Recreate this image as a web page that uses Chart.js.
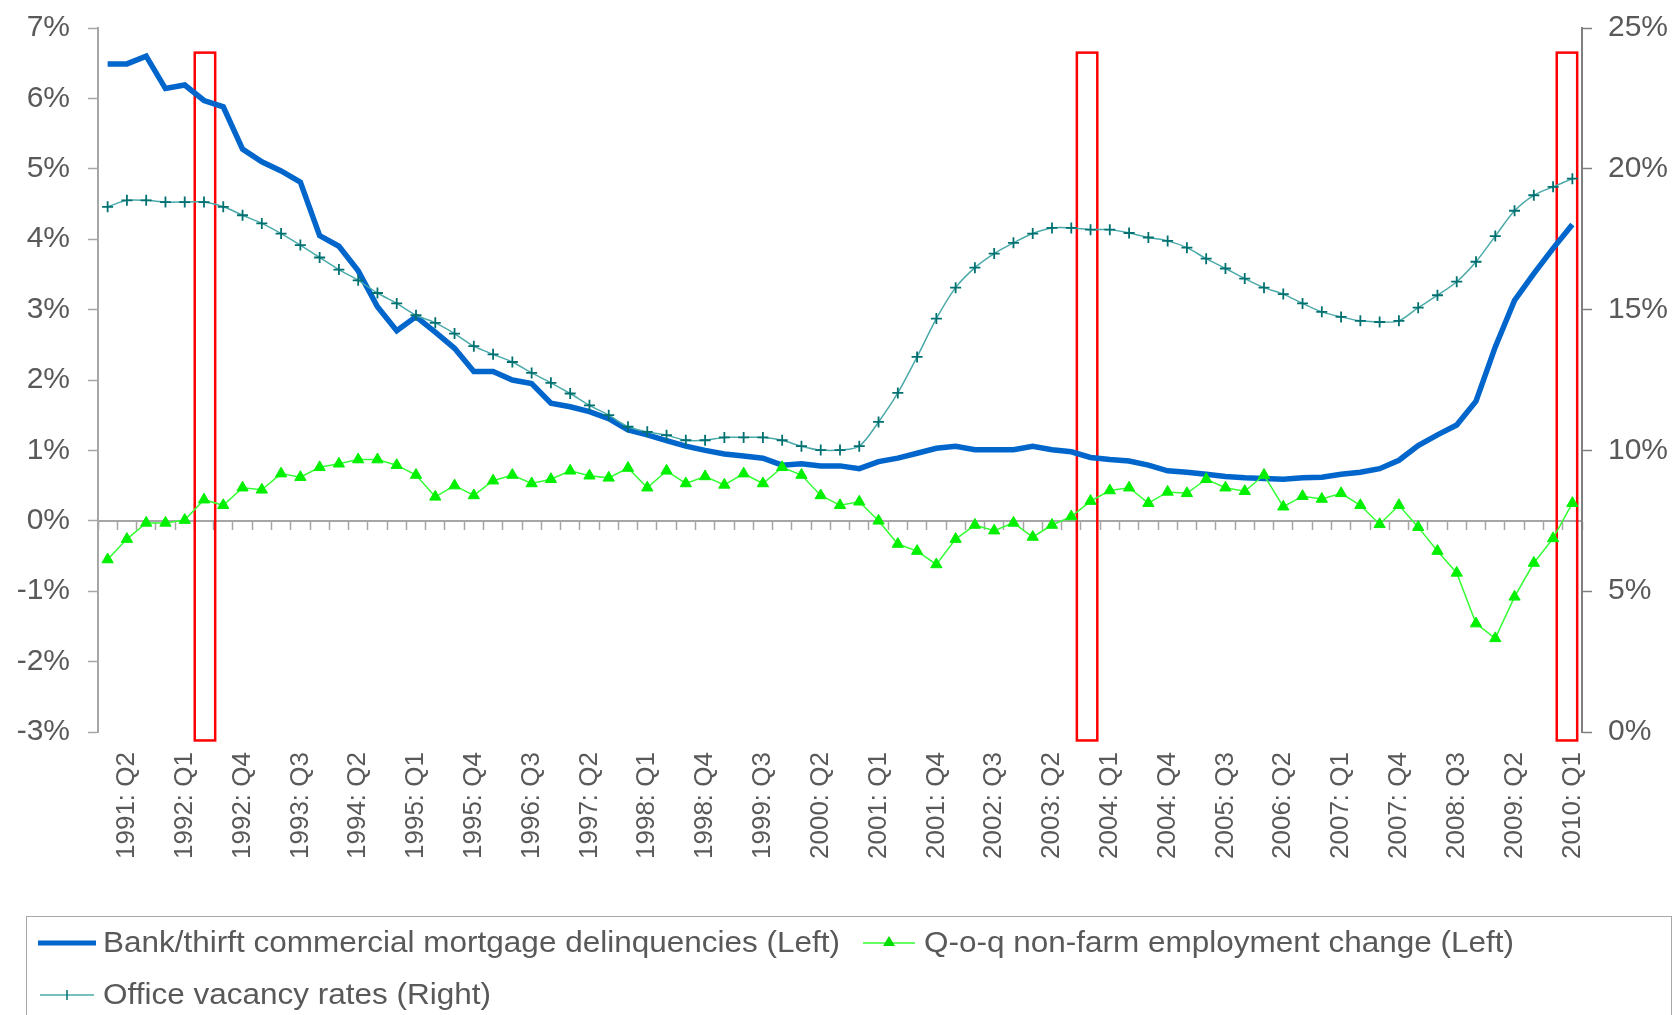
<!DOCTYPE html>
<html>
<head>
<meta charset="utf-8">
<script src="https://cdn.jsdelivr.net/npm/chart.js@4.4.1/dist/chart.umd.min.js"></script>
<style>
  body { margin: 0; background: #fff; }
  #wrap { position: relative; width: 1675px; height: 1015px; overflow: hidden; }
  #legend { position: absolute; left: 26px; top: 916px; width: 1644px; height: 120px;
            border: 1.5px solid #a8a8a8; font-family: "Liberation Sans", Arial, sans-serif;
            font-size: 30px; color: #595959; }
  .item { position: absolute; white-space: nowrap; }
  .item span { display: inline-block; transform: scaleX(1.05); transform-origin: left center; }
  .item svg { position: absolute; }
</style>
</head>
<body>
<div id="wrap">
  <canvas id="nchart" width="1675" height="1015"></canvas>
  <div id="legend">
    <div class="item" style="left:10px; top:8px;">
      <svg width="60" height="20" style="left:0; top:8px;"><line x1="1" y1="10" x2="59" y2="10" stroke="#0066cc" stroke-width="5"/></svg>
      <span style="margin-left:66px;">Bank/thirft commercial mortgage delinquencies (Left)</span>
    </div>
    <div class="item" style="left:836px; top:8px;">
      <svg width="52" height="20" style="left:0; top:8px;"><line x1="0" y1="10" x2="52" y2="10" stroke="#33ff33" stroke-width="1.5"/><polygon points="26,3 32,13 20,13" fill="#00e000"/></svg>
      <span style="margin-left:61px;">Q-o-q non-farm employment change (Left)</span>
    </div>
    <div class="item" style="left:13px; top:60px;">
      <svg width="54" height="20" style="left:0; top:8px;"><line x1="0" y1="10" x2="54" y2="10" stroke="#4aa9a9" stroke-width="1.5"/><line x1="27" y1="5" x2="27" y2="15" stroke="#007070" stroke-width="1.5"/></svg>
      <span style="margin-left:63px;">Office vacancy rates (Right)</span>
    </div>
  </div>
</div>
<script>
// 1991:Q1 .. 2010:Q1
let quarters = []
for (let yr = 1991; yr <= 2010; yr++) {
    for (let q = 1; q <= 4; q++) {
        if (yr === 2010 && q > 1) break
        quarters.push(yr + ': Q' + q)
    }
}

const delinquencies = [6.49, 6.49, 6.60, 6.14, 6.19, 5.97, 5.88, 5.28, 5.10, 4.97,
    4.81, 4.05, 3.90, 3.55, 3.04, 2.70, 2.90, 2.68, 2.45, 2.12,
    2.12, 2.00, 1.95, 1.67, 1.62, 1.55, 1.45, 1.29, 1.22, 1.14,
    1.06, 1.00, 0.95, 0.92, 0.89, 0.79, 0.81, 0.78, 0.78, 0.74,
    0.84, 0.89, 0.96, 1.03, 1.06, 1.01, 1.01, 1.01, 1.06, 1.01,
    0.98, 0.90, 0.87, 0.85, 0.79, 0.71, 0.69, 0.66, 0.63, 0.61,
    0.60, 0.59, 0.61, 0.62, 0.66, 0.69, 0.74, 0.86, 1.07, 1.22,
    1.36, 1.70, 2.47, 3.13, 3.51, 3.87, 4.21]

const employment = [-0.55, -0.26, -0.03, -0.03, 0.01, 0.30, 0.22, 0.47, 0.44, 0.67,
    0.62, 0.76, 0.81, 0.87, 0.87, 0.79, 0.65, 0.34, 0.50, 0.36,
    0.57, 0.65, 0.53, 0.59, 0.71, 0.64, 0.61, 0.75, 0.47, 0.71,
    0.53, 0.63, 0.51, 0.67, 0.53, 0.76, 0.65, 0.36, 0.22, 0.27,
    0.00, -0.33, -0.43, -0.62, -0.26, -0.06, -0.14, -0.03, -0.23, -0.06,
    0.06, 0.28, 0.43, 0.47, 0.25, 0.41, 0.39, 0.59, 0.47, 0.42,
    0.65, 0.20, 0.35, 0.31, 0.39, 0.22, -0.05, 0.22, -0.09, -0.43,
    -0.74, -1.46, -1.67, -1.08, -0.60, -0.25, 0.25]

const vacancy = [18.65, 18.88, 18.88, 18.82, 18.82, 18.82, 18.65, 18.35, 18.06, 17.70,
    17.29, 16.85, 16.42, 16.04, 15.59, 15.22, 14.80, 14.53, 14.15, 13.70,
    13.41, 13.14, 12.75, 12.40, 12.02, 11.60, 11.25, 10.84, 10.66, 10.54,
    10.36, 10.36, 10.46, 10.46, 10.46, 10.36, 10.15, 10.01, 10.01, 10.15,
    11.01, 12.04, 13.32, 14.68, 15.78, 16.49, 16.99, 17.37, 17.70, 17.90,
    17.90, 17.84, 17.84, 17.72, 17.56, 17.44, 17.20, 16.81, 16.46, 16.10,
    15.78, 15.55, 15.22, 14.92, 14.74, 14.60, 14.56, 14.60, 15.07, 15.51,
    15.99, 16.70, 17.61, 18.51, 19.06, 19.36, 19.65]

// red highlight boxes, in category units
const boxCenters = [5.05, 50.82, 75.72]
const boxTop = 6.65
const boxBottom = -3.12

const font = { family: "'Liberation Sans', Arial, sans-serif", size: 30 }
const grey = '#595959'

const highlightBoxes = {
    id: 'highlightBoxes',
    beforeDatasetsDraw(chart) {
        const x = chart.scales.x
        const y = chart.scales.y
        const step = x.getPixelForValue(1) - x.getPixelForValue(0)
        const x0 = x.getPixelForValue(0)
        const ctx = chart.ctx
        ctx.save()
        ctx.strokeStyle = '#ff0000'
        ctx.lineWidth = 2.5
        boxCenters.forEach(c => {
            let left = x0 + (c - 0.53) * step
            let top = y.getPixelForValue(boxTop)
            ctx.strokeRect(left, top, 1.06 * step, y.getPixelForValue(boxBottom) - top)
        })
        ctx.restore()
    }
}

// keep the axes from adding their own label padding at top/bottom
function fixVertical(width) {
    return (scale) => {
        scale.width = width
        scale.paddingTop = 0
        scale.paddingBottom = 0
    }
}

Chart.defaults.font.family = font.family
Chart.defaults.color = grey

var ctx = document.getElementById('nchart')
var chartGraph = new Chart(ctx, {
    type: 'line',
    data: {
        labels: quarters,
        datasets: [{
            label: 'Office vacancy rates (Right)',
            data: vacancy,
            yAxisID: 'y1',
            order: 0,
            borderColor: '#4aa9a9',
            borderWidth: 1.5,
            tension: 0.3,
            pointStyle: 'cross',
            pointRadius: 5.5,
            pointBorderColor: '#007070',
            pointBorderWidth: 1.8
        }, {
            label: 'Q-o-q non-farm employment change (Left)',
            data: employment,
            yAxisID: 'y',
            order: 1,
            borderColor: '#33ff33',
            borderWidth: 1.5,
            pointStyle: 'triangle',
            pointRadius: 6.5,
            pointBackgroundColor: '#00f000',
            pointBorderColor: '#00f000',
            pointBorderWidth: 1
        }, {
            label: 'Bank/thirft commercial mortgage delinquencies (Left)',
            data: delinquencies,
            yAxisID: 'y',
            order: 2,
            borderColor: '#0066cc',
            borderWidth: 5.5,
            pointRadius: 0
        }]
    },
    options: {
        responsive: false,
        animation: false,
        devicePixelRatio: 1,
        layout: { padding: { top: 28, bottom: 0, left: 0, right: 0 } },
        plugins: { legend: { display: false }, tooltip: { enabled: false } },
        scales: {
            x: {
                type: 'category',
                offset: true,
                grid: { display: false },
                border: { display: false },
                ticks: {
                    autoSkip: false,
                    minRotation: 90,
                    maxRotation: 90,
                    padding: 12,
                    font: { size: 26 },
                    color: grey,
                    callback: (val, idx) => idx % 3 === 1 ? quarters[idx] : ''
                },
                afterFit: (scale) => { scale.height = 283 }
            },
            xZero: {
                type: 'category',
                offset: true,
                position: { y: 0 },
                grid: { drawOnChartArea: false, offset: true, tickLength: 8, tickColor: '#a6a6a6', tickWidth: 1.5 },
                border: { color: '#a6a6a6', width: 2 },
                ticks: { display: false }
            },
            y: {
                position: 'left',
                min: -3,
                max: 7,
                ticks: { stepSize: 1, padding: 18, font: { size: 30 }, color: grey, callback: v => v + '%' },
                grid: { drawOnChartArea: false, tickLength: 10, tickColor: '#a6a6a6', tickWidth: 1.5 },
                border: { color: '#a6a6a6', width: 2 },
                afterFit: fixVertical(98)
            },
            y1: {
                position: 'right',
                min: 0,
                max: 25,
                ticks: { stepSize: 5, padding: 16, font: { size: 30 }, color: grey, callback: v => v + '%' },
                grid: { drawOnChartArea: false, tickLength: 10, tickColor: '#808080', tickWidth: 1.5 },
                border: { color: '#808080', width: 2 },
                afterFit: fixVertical(93)
            }
        }
    },
    plugins: [highlightBoxes]
})
</script>
</body>
</html>
